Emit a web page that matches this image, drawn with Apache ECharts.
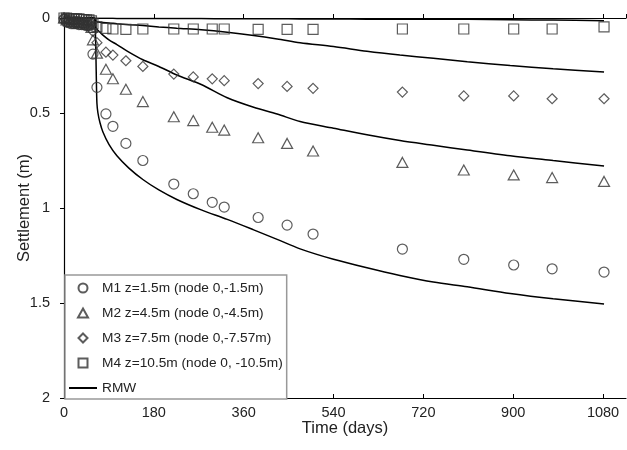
<!DOCTYPE html>
<html>
<head>
<meta charset="utf-8">
<script src="https://cdn.jsdelivr.net/npm/echarts@6/dist/echarts.min.js"></script>
<style>
html,body{margin:0;padding:0;background:#fff;}
#chart{width:627px;height:450px;}
</style>
</head>
<body>
<div id="chart"></div>
<script>
// ---- Measured data (time in days, settlement in m) ----
const measDays = [0, 5, 10, 15, 20, 25, 30, 35, 40, 45, 50, 55, 58, 66, 84, 98, 124, 158, 220, 259, 297, 321, 389, 447, 499, 678, 801, 901, 978, 1082];
const m1Vals = [0.005, 0.02, 0.025, 0.03, 0.03, 0.03, 0.035, 0.035, 0.035, 0.04, 0.04, 0.05, 0.19, 0.365, 0.505, 0.57, 0.66, 0.75, 0.874, 0.925, 0.97, 0.995, 1.05, 1.09, 1.137, 1.216, 1.27, 1.30, 1.32, 1.337];
const m2Vals = [0.0, 0.01, 0.015, 0.02, 0.02, 0.02, 0.025, 0.025, 0.025, 0.03, 0.035, 0.05, 0.115, 0.185, 0.27, 0.32, 0.375, 0.44, 0.52, 0.54, 0.575, 0.59, 0.63, 0.66, 0.70, 0.76, 0.80, 0.826, 0.84, 0.86];
const m3Vals = [0.0, 0.005, 0.01, 0.01, 0.015, 0.015, 0.015, 0.02, 0.02, 0.02, 0.025, 0.03, 0.07, 0.13, 0.18, 0.195, 0.225, 0.255, 0.295, 0.31, 0.32, 0.33, 0.345, 0.36, 0.37, 0.39, 0.41, 0.41, 0.425, 0.425];
const m4Vals = [0.0, 0.0, 0.005, 0.005, 0.005, 0.005, 0.005, 0.008, 0.008, 0.01, 0.01, 0.015, 0.03, 0.047, 0.055, 0.058, 0.06, 0.058, 0.058, 0.058, 0.058, 0.058, 0.06, 0.06, 0.06, 0.058, 0.058, 0.058, 0.058, 0.047];

// ---- RMW predictions ----
const rmwDays = [0, 60, 62, 63, 64, 65, 66, 68, 72, 78, 90, 106, 130, 158, 190, 226, 275, 327, 380, 427, 473, 540, 607, 673, 740, 808, 894, 980, 1082];
const rmw1Vals = [0, 0, 0.02, 0.08, 0.2, 0.35, 0.45, 0.5, 0.55, 0.6, 0.665, 0.725, 0.79, 0.85, 0.905, 0.955, 1.01, 1.06, 1.115, 1.165, 1.215, 1.27, 1.315, 1.355, 1.39, 1.415, 1.45, 1.478, 1.505];
const rmw2Vals = [0, 0, 0.03, 0.04, 0.05, 0.055, 0.06, 0.065, 0.075, 0.09, 0.115, 0.14, 0.18, 0.22, 0.255, 0.3, 0.35, 0.42, 0.47, 0.505, 0.545, 0.58, 0.615, 0.645, 0.67, 0.695, 0.725, 0.75, 0.779];
const rmw3Vals = [0, 0, 0.01, 0.012, 0.015, 0.017, 0.02, 0.021, 0.022, 0.024, 0.026, 0.03, 0.035, 0.04, 0.047, 0.054, 0.062, 0.075, 0.092, 0.11, 0.13, 0.15, 0.175, 0.195, 0.212, 0.23, 0.25, 0.267, 0.284];
const rmw4Vals = [0, 0, 0, 0, 0.001, 0.001, 0.001, 0.001, 0.001, 0.001, 0.001, 0.002, 0.002, 0.002, 0.003, 0.003, 0.003, 0.004, 0.004, 0.004, 0.005, 0.005, 0.006, 0.006, 0.007, 0.007, 0.009, 0.011, 0.014];

// ---- Labels ----
const seriesNames = ['M1 z=1.5m (node 0,-1.5m)', 'M2 z=4.5m (node 0,-4.5m)', 'M3 z=7.5m (node 0,-7.57m)', 'M4 z=10.5m (node 0, -10.5m)'];
const rmwName = 'RMW';
const xTickInterval = 180;
const yTickInterval = 0.5;

const pair = (xs, ys) => xs.map((x, i) => [x, ys[i]]);
const FONT = 'Arial, "Liberation Sans", sans-serif';
const markerColor = '#333';

const scatter = (name, vals, symbol, size) => ({
  name: name,
  type: 'scatter',
  data: pair(measDays, vals),
  symbol: symbol,
  symbolSize: size,
  itemStyle: { color: 'rgba(255,255,255,0)', borderColor: markerColor, borderWidth: 1.2 },
  emphasis: { disabled: true },
  z: 3
});
const line = (vals) => ({
  name: rmwName,
  type: 'line',
  data: pair(rmwDays, vals),
  symbol: 'circle',
  symbolSize: 0,
  showSymbol: false,
  smooth: 0.3,
  lineStyle: { color: '#000', width: 1.5 },
  itemStyle: { color: 'rgba(0,0,0,0)', borderWidth: 0 },
  emphasis: { disabled: true },
  z: 2
});

const chart = echarts.init(document.getElementById('chart'), null, { renderer: 'canvas' });
chart.setOption({
  animation: false,
  backgroundColor: '#fff',
  textStyle: { fontFamily: FONT },
  grid: { left: 64, right: 1, top: 18, bottom: 52, containLabel: false, outerBoundsMode: 'none' },
  legend: {
    orient: 'vertical',
    left: 65,
    top: 275,
    padding: [6, 4, 4, 3],
    itemWidth: 28,
    itemHeight: 9,
    itemGap: 11,
    symbolKeepAspect: true,
    backgroundColor: '#fff',
    borderColor: '#999',
    borderWidth: 1.5,
    textStyle: { fontFamily: FONT, fontSize: 13.7, color: '#222' },
    data: [
      { name: seriesNames[0], icon: 'circle' },
      { name: seriesNames[1], icon: 'path://M5,0L10,9L0,9Z' },
      { name: seriesNames[2], icon: 'path://M5,0L10,5L5,10L0,5Z' },
      { name: seriesNames[3], icon: 'path://M0,0H10V10H0Z' },
      { name: rmwName, itemStyle: { color: 'rgba(0,0,0,0)', borderWidth: 0 } }
    ],
    selectedMode: false
  },
  xAxis: [
    {
      type: 'value', position: 'top', min: 0, max: 1126, interval: xTickInterval,
      axisLine: { show: true, onZero: false, lineStyle: { color: '#000', width: 1.2 } },
      axisTick: { show: true, inside: false, length: 4, lineStyle: { color: '#000' } },
      axisLabel: { show: false },
      splitLine: { show: false }
    },
    {
      type: 'value', position: 'bottom', min: 0, max: 1126, interval: xTickInterval,
      name: 'Time (days)', nameLocation: 'middle', nameGap: 22, nameMoveOverlap: false,
      nameTextStyle: { fontFamily: FONT, fontSize: 16.5, color: '#222' },
      axisLine: { show: true, onZero: false, lineStyle: { color: '#000', width: 1.2 } },
      axisTick: { show: true, inside: true, length: 4, lineStyle: { color: '#000' } },
      axisLabel: { show: true, margin: 7, fontFamily: FONT, fontSize: 14.5, color: '#222', showMaxLabel: false, formatter: (v) => String(v) },
      splitLine: { show: false }
    }
  ],
  yAxis: {
    type: 'value', inverse: true, min: 0, max: 2, interval: yTickInterval,
    name: 'Settlement (m)', nameLocation: 'middle', nameGap: 31, nameRotate: 90, nameMoveOverlap: false,
    nameTextStyle: { fontFamily: FONT, fontSize: 16.5, color: '#222' },
    axisLine: { show: true, onZero: false, lineStyle: { color: '#000', width: 1.2 } },
    axisTick: { show: true, inside: false, length: 4, lineStyle: { color: '#000' } },
    axisLabel: { margin: 14, fontFamily: FONT, fontSize: 14.5, color: '#222', formatter: (v) => String(v) },
    splitLine: { show: false }
  },
  series: [
    scatter(seriesNames[0], m1Vals, 'circle', 10),
    scatter(seriesNames[1], m2Vals, 'triangle', [11, 10]),
    scatter(seriesNames[2], m3Vals, 'diamond', [10, 10]),
    scatter(seriesNames[3], m4Vals, 'rect', 10),
    line(rmw1Vals),
    line(rmw2Vals),
    line(rmw3Vals),
    line(rmw4Vals)
  ]
});
</script>
</body>
</html>
